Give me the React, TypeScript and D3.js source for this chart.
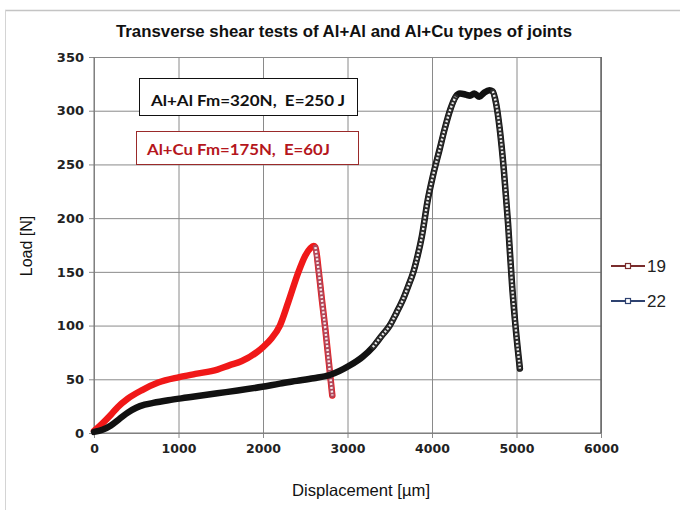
import { useEffect, useRef } from 'react';
import * as d3 from 'd3';

// Transverse shear test curves
// series "19" = Al+Al joint (black), series "22" = Al+Cu joint (red)
const DISP_19 = [0, 100, 200, 300, 400, 500, 600, 700, 880, 1100, 1460, 1700, 1990, 2200, 2400, 2600, 2790, 3030, 3180, 3300, 3400, 3500, 3580, 3660, 3720, 3780, 3830, 3880, 3950, 4010, 4090, 4150, 4220, 4280, 4330, 4400, 4450, 4500, 4560, 4620, 4680, 4720, 4760, 4800, 4850, 4900, 4950, 4990, 5040];
const LOAD_19 = [1, 3, 7, 13, 19, 23.5, 26.3, 28, 30.5, 33, 37, 39.5, 43, 46, 48.5, 51, 54, 63, 71, 80, 90, 100, 112, 125, 137, 150, 165, 183, 217, 239, 264, 283, 302, 313, 316, 315, 314, 316, 313, 317, 319, 318, 306, 284, 245, 195, 135, 98, 60];

const DISP_22 = [0, 100, 200, 280, 400, 570, 760, 1010, 1200, 1460, 1600, 1750, 1940, 2000, 2100, 2200, 2300, 2420, 2500, 2560, 2600, 2620, 2660, 2700, 2740, 2780, 2820];
const LOAD_22 = [2, 9, 17, 24, 32, 40, 47, 52, 55, 59, 63, 67, 76, 80, 88, 100, 122, 150, 165, 172, 174, 173, 150, 122, 95, 65, 35];

const X_TICKS = [0, 1000, 2000, 3000, 4000, 5000, 6000];
const Y_TICKS = [0, 50, 100, 150, 200, 250, 300, 350];

const SERIES_NAMES = ['19', '22'];
const NOTES = ['Al+Al Fm=320N,  E=250 J', 'Al+Cu Fm=175N,  E=60J'];

type Pt = { x: number; y: number };

export default function App() {
  const svgRef = useRef<SVGSVGElement | null>(null);

  useEffect(() => {
    if (!svgRef.current) return;
    const svg = d3.select(svgRef.current);
    svg.selectAll('*').remove();

    const W = 680;
    const H = 510;
    const m = { left: 94, right: 79, top: 57, bottom: 77 };

    const x = d3.scaleLinear().domain([0, 6000]).range([m.left, W - m.right]);
    const y = d3.scaleLinear().domain([0, 350]).range([H - m.bottom, m.top]);

    svg.append('rect').attr('width', W).attr('height', H).attr('fill', '#fff');

    // outer chart frame (only top and left visible in the crop)
    svg.append('line').attr('x1', 5).attr('x2', W).attr('y1', 10.5).attr('y2', 10.5)
      .attr('stroke', '#c4c4c4').attr('stroke-width', 1.5);
    svg.append('line').attr('x1', 5.5).attr('x2', 5.5).attr('y1', 10).attr('y2', H)
      .attr('stroke', '#d4d4d4').attr('stroke-width', 1);

    // title
    svg.append('text')
      .attr('x', 344).attr('y', 37)
      .attr('text-anchor', 'middle')
      .attr('font-family', 'Liberation Sans, Arial, sans-serif')
      .attr('font-weight', 'bold')
      .attr('font-size', 16)
      .attr('fill', '#111')
      .attr('textLength', 456)
      .attr('lengthAdjust', 'spacingAndGlyphs')
      .text('Transverse shear tests of Al+Al and Al+Cu types of joints');

    // grid + axes
    const plotH = y(0) - y(350);
    const gx = svg.append('g').attr('transform', `translate(0,${y(0)})`)
      .call(d3.axisBottom(x).tickValues(X_TICKS).tickSize(-plotH).tickSizeOuter(0).tickPadding(11).tickFormat(d3.format('d')));
    gx.select('.domain').remove();
    gx.selectAll('.tick line').attr('stroke', '#8a8a8a').attr('y2', -plotH).attr('y1', 5);
    gx.selectAll('.tick text')
      .attr('font-family', 'DejaVu Sans, sans-serif').attr('font-weight', 'bold')
      .attr('font-size', 12.5).attr('fill', '#222');

    const gy = svg.append('g').attr('transform', `translate(${x(0)},0)`)
      .call(d3.axisLeft(y).tickValues(Y_TICKS).tickSize(-(x(6000) - x(0))).tickSizeOuter(0).tickPadding(10).tickFormat(d3.format('d')));
    gy.select('.domain').remove();
    gy.selectAll('.tick line').attr('stroke', '#8a8a8a').attr('x1', -5);
    gy.selectAll('.tick text')
      .attr('font-family', 'DejaVu Sans, sans-serif').attr('font-weight', 'bold')
      .attr('font-size', 13).attr('fill', '#222');

    // plot border
    svg.append('line').attr('x1', x(0)).attr('x2', x(0)).attr('y1', y(350)).attr('y2', y(0))
      .attr('stroke', '#777');
    svg.append('line').attr('x1', x(0)).attr('x2', x(6000)).attr('y1', y(0)).attr('y2', y(0))
      .attr('stroke', '#777');
    svg.append('line').attr('x1', x(6000)).attr('x2', x(6000)).attr('y1', y(350)).attr('y2', y(0))
      .attr('stroke', '#666').attr('stroke-width', 1.5);

    // axis titles
    svg.append('text')
      .attr('transform', `translate(32,${(y(0) + y(350)) / 2 + 1}) rotate(-90)`)
      .attr('text-anchor', 'middle')
      .attr('font-family', 'Liberation Sans, Arial, sans-serif')
      .attr('font-size', 16).attr('fill', '#111')
      .text('Load [N]');
    svg.append('text')
      .attr('x', 361).attr('y', 496)
      .attr('text-anchor', 'middle')
      .attr('font-family', 'Liberation Sans, Arial, sans-serif')
      .attr('font-size', 16.5).attr('fill', '#111')
      .attr('textLength', 138)
      .attr('lengthAdjust', 'spacingAndGlyphs')
      .text('Displacement [\u00b5m]');

    // annotation boxes
    svg.append('rect').attr('x', 139.5).attr('y', 78.5).attr('width', 218).attr('height', 37)
      .attr('fill', '#fff').attr('stroke', '#111');
    svg.append('text').attr('x', 151).attr('y', 106)
      .attr('font-family', 'Lato, sans-serif').attr('font-weight', 'bold')
      .attr('font-size', 15.5).attr('fill', '#111')
      .attr('xml:space', 'preserve')
      .attr('textLength', 194)
      .attr('lengthAdjust', 'spacingAndGlyphs')
      .text(NOTES[0]);
    svg.append('rect').attr('x', 136.5).attr('y', 131.5).attr('width', 222).attr('height', 33)
      .attr('fill', '#fff').attr('stroke', '#9a2a2a');
    svg.append('text').attr('x', 147).attr('y', 155)
      .attr('font-family', 'Lato, sans-serif').attr('font-weight', 'bold')
      .attr('font-size', 15.5).attr('fill', '#b5161c')
      .attr('xml:space', 'preserve')
      .attr('textLength', 183)
      .attr('lengthAdjust', 'spacingAndGlyphs')
      .text(NOTES[1]);

    // curves: dense parts look solid, sparse parts look like chains of rings
    const pts19: Pt[] = DISP_19.map((d, i) => ({ x: d, y: LOAD_19[i] }));
    const pts22: Pt[] = DISP_22.map((d, i) => ({ x: d, y: LOAD_22[i] }));

    const line = d3.line<Pt>().x(d => x(d.x)).y(d => y(d.y)).curve(d3.curveMonotoneX);

    const sparse19 = (d: Pt) => (d.x >= 3280 && d.x <= 4280) || d.x >= 4720;
    const sparse22 = (d: Pt) => d.x >= 2620;

    const drawSeries = (pts: Pt[], solid: string, ring: string, sparse: (d: Pt) => boolean) => {
      const g = svg.append('g');
      g.append('path').attr('d', line(pts))
        .attr('fill', 'none').attr('stroke', solid).attr('stroke-width', 6.5)
        .attr('stroke-linejoin', 'round').attr('stroke-linecap', 'round');
      // ring-coloured overlay on the sparse stretches
      const sp = d3.line<Pt>().defined(sparse).x(d => x(d.x)).y(d => y(d.y)).curve(d3.curveMonotoneX);
      g.append('path').attr('d', sp(pts))
        .attr('fill', 'none').attr('stroke', ring).attr('stroke-width', 5.2)
        .attr('stroke-linecap', 'round');
      g.append('path').attr('d', sp(pts))
        .attr('fill', 'none').attr('stroke', '#fff').attr('stroke-width', 2.4)
        .attr('stroke-dasharray', '2 1.8').attr('opacity', 0.9);
    };

    drawSeries(pts22, '#f01818', '#b0475a', sparse22);
    drawSeries(pts19, '#111', '#2a2a2a', sparse19);

    // legend
    const legendColors = ['#7a2c2c', '#2e4270'];
    SERIES_NAMES.forEach((name, i) => {
      const ly = 266 + i * 35;
      const g = svg.append('g');
      g.append('line').attr('x1', 611).attr('x2', 645).attr('y1', ly).attr('y2', ly)
        .attr('stroke', legendColors[i]).attr('stroke-width', 2.2);
      g.append('rect').attr('x', 625.5).attr('y', ly - 2.5).attr('width', 5).attr('height', 5)
        .attr('fill', '#fff').attr('stroke', legendColors[i]).attr('stroke-width', 1.2);
      g.append('text').attr('x', 647).attr('y', ly + 6)
        .attr('font-family', 'Liberation Sans, Arial, sans-serif')
        .attr('font-size', 17).attr('fill', '#222')
        .text(name);
    });
  }, []);

  return (
    <svg ref={svgRef} width={680} height={510}
      style={{ position: 'absolute', left: 0, top: 0, display: 'block' }} />
  );
}
